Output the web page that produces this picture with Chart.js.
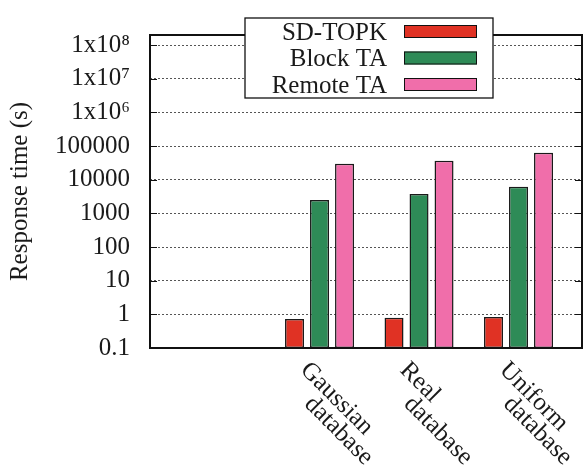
<!DOCTYPE html>
<html>
<head>
<meta charset="utf-8">
<script src="https://cdn.jsdelivr.net/npm/chart.js@4"></script>
<style>
  html, body { margin: 0; padding: 0; background: #fff; }
  #wrap { width: 583px; height: 469px; }
</style>
</head>
<body>
<div id="wrap"><canvas id="responseChart"></canvas></div>
<script>
// categories and measured response times (seconds)
var categories = ['Gaussian\ndatabase', 'Real\ndatabase', 'Uniform\ndatabase'];
var seriesNames = ['SD-TOPK', 'Block TA', 'Remote TA'];
var sdTopk = [0.73, 0.79, 0.84];
var blockTA = [2520, 3760, 6220];
var remoteTA = [29700, 36500, 63400];
var yTicks = [0.1, 1, 10, 100, 1000, 10000, 100000, 1e6, 1e7, 1e8];
var yTickLabels = ['0.1', '1', '10', '100', '1000', '10000', '100000', '1x10\u2076', '1x10\u2077', '1x10\u2078'];

var FONT = '"Liberation Serif", "Times New Roman", serif';
var TEXT = '#1a1a1a';

function points(values) {
	return values.map(function (v, i) { return { x: i, y: v }; });
}

// plot frame, inward tick marks, x labels, key box
var gnuplotLook = {
	id: 'gnuplotLook',
	afterDatasetsDraw: function (chart) {
		var ctx = chart.ctx;
		var area = chart.chartArea;
		var y = chart.scales.y;
		var x = chart.scales.x;
		ctx.save();

		// tick marks on both sides
		ctx.strokeStyle = '#111';
		ctx.lineWidth = 1.2;
		yTicks.forEach(function (v) {
			var py = Math.round(y.getPixelForValue(v)) + 0.5;
			ctx.beginPath();
			ctx.moveTo(area.left, py);
			ctx.lineTo(area.left + 7, py);
			ctx.moveTo(area.right, py);
			ctx.lineTo(area.right - 7, py);
			ctx.stroke();
		});

		// frame
		ctx.lineWidth = 2;
		ctx.strokeStyle = '#111';
		ctx.strokeRect(area.left, area.top, area.right - area.left, area.bottom - area.top);

		// rotated category labels
		ctx.fillStyle = TEXT;
		ctx.font = '25px ' + FONT;
		ctx.textAlign = 'left';
		ctx.textBaseline = 'alphabetic';
		categories.forEach(function (label, i) {
			var px = x.getPixelForValue(i);
			label.split('\n').forEach(function (line, j) {
				ctx.save();
				ctx.translate(px - 20 + 4 * j, area.bottom + 23 + 34 * j);
				ctx.rotate(Math.PI / 4);
				ctx.fillText(line, 0, 0);
				ctx.restore();
			});
		});

		// key
		var kx = 245, ky = 18, kw = 248, kh = 80;
		ctx.fillStyle = '#fff';
		ctx.fillRect(kx, ky, kw, kh);
		ctx.lineWidth = 1.3;
		ctx.strokeStyle = '#111';
		ctx.strokeRect(kx, ky, kw, kh);
		ctx.textAlign = 'right';
		ctx.textBaseline = 'middle';
		chart.data.datasets.forEach(function (ds, i) {
			var rowY = ky + 14 + i * 26.5;
			ctx.fillStyle = TEXT;
			ctx.fillText(ds.label, 387, rowY + 1);
			ctx.fillStyle = ds.backgroundColor;
			ctx.fillRect(404, rowY - 7, 73, 13);
			ctx.lineWidth = 1;
			ctx.strokeRect(404.5, rowY - 6.5, 72, 12);
		});
		ctx.restore();
	}
};

var responseChart = new Chart(document.getElementById('responseChart'), {
	type: 'bar',
	data: {
		datasets: [
		{
			label: seriesNames[0],
			data: points(sdTopk),
			backgroundColor: '#e03224',
			borderColor: '#1a1a1a',
			borderWidth: 1.5,
			borderSkipped: false
		},
		{
			label: seriesNames[1],
			data: points(blockTA),
			backgroundColor: '#2e8b57',
			borderColor: '#1a1a1a',
			borderWidth: 1.5,
			borderSkipped: false
		},
		{
			label: seriesNames[2],
			data: points(remoteTA),
			backgroundColor: '#f06eaa',
			borderColor: '#1a1a1a',
			borderWidth: 1.5,
			borderSkipped: false
		}
		]
	},
	options: {
		responsive: true,
		maintainAspectRatio: false,
		animation: false,
		layout: { padding: { top: 10, right: 1, left: 0, bottom: 0 } },
		categoryPercentage: 0.754,
		barPercentage: 0.76,
		plugins: {
			legend: { display: false },
			tooltip: { enabled: false }
		},
		scales: {
			x: {
				type: 'linear',
				min: -1.704,
				max: 2.638,
				offset: false,
				// one tick per category so the bar ruler uses the category spacing
				afterBuildTicks: function (s) {
					s.ticks = categories.map(function (c, i) { return { value: i }; });
				},
				grid: { display: false, drawTicks: false },
				border: { display: false },
				ticks: { display: false },
				afterFit: function (s) { s.height = 121; }
			},
			y: {
				type: 'logarithmic',
				min: 0.1,
				max: 2e8,
				afterBuildTicks: function (s) {
					s.ticks = yTicks.map(function (v) { return { value: v }; });
				},
				afterFit: function (s) { s.width = 150; },
				border: { display: false, dash: [2, 2] },
				grid: {
					color: '#555',
					lineWidth: 1,
					drawTicks: false
				},
				ticks: {
					padding: 20,
					color: TEXT,
					font: { family: FONT, size: 25 },
					callback: function (v) {
						var i = yTicks.indexOf(v);
						return i >= 0 ? yTickLabels[i] : '';
					}
				},
				title: {
					display: true,
					text: 'Response time (s)',
					color: TEXT,
					font: { family: FONT, size: 25 },
					padding: { top: 5, bottom: 0 }
				}
			}
		}
	},
	plugins: [gnuplotLook]
});
window.responseChart = responseChart;
</script>
</body>
</html>
